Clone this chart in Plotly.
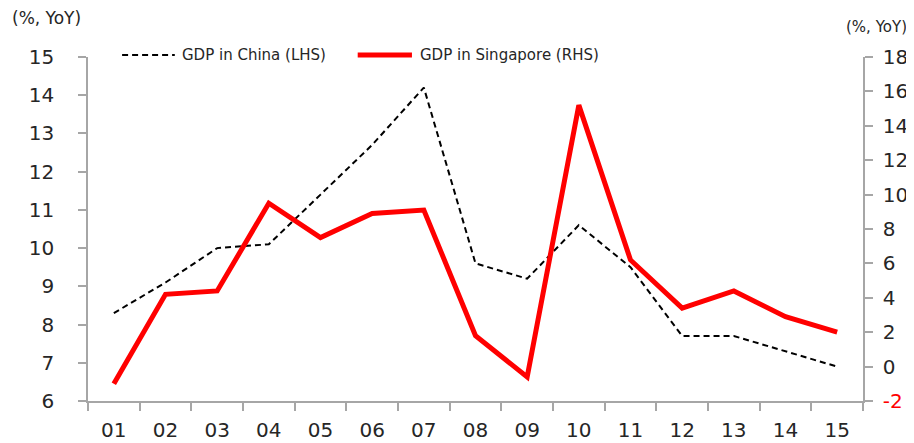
import plotly.graph_objects as go

years = ["01", "02", "03", "04", "05", "06", "07", "08", "09", "10", "11", "12", "13", "14", "15"]
gdp_china = [8.3, 9.1, 10.0, 10.1, 11.4, 12.7, 14.2, 9.6, 9.2, 10.6, 9.5, 7.7, 7.7, 7.3, 6.9]
gdp_singapore = [-1.0, 4.2, 4.4, 9.5, 7.5, 8.9, 9.1, 1.8, -0.6, 15.2, 6.2, 3.4, 4.4, 2.9, 2.0]
left_ticks = [6, 7, 8, 9, 10, 11, 12, 13, 14, 15]
right_ticks = [-2, 0, 2, 4, 6, 8, 10, 12, 14, 16, 18]
right_tick_text = ['<span style="color:#ff0000">-2</span>'] + [str(v) for v in right_ticks[1:]]

FONT = "DejaVu Sans"
AXIS_COLOR = "#a6a6a6"
TEXT_COLOR = "#262626"
TICK_SIZE = 20

fig = go.Figure()
fig.add_trace(go.Scatter(
    x=years, y=gdp_china, name="GDP in China (LHS)", mode="lines",
    line=dict(color="#000000", width=2, dash="6px,4px"), showlegend=False,
))
fig.add_trace(go.Scatter(
    x=years, y=gdp_singapore, name="GDP in Singapore (RHS)", mode="lines",
    line=dict(color="#ff0000", width=5), yaxis="y2", showlegend=False,
))

# page body has an 8px margin, so the figure is sized/placed to compensate
fig.update_layout(
    width=906, height=435,
    margin=dict(l=80, r=51, t=49, b=42, autoexpand=False),
    paper_bgcolor="white", plot_bgcolor="white",
    font=dict(family=FONT, color=TEXT_COLOR, size=TICK_SIZE),
    xaxis=dict(
        type="category", showgrid=False, zeroline=False, automargin=False,
        showline=True, linecolor=AXIS_COLOR, linewidth=1.5,
        ticks="outside", ticklen=8, tickcolor=AXIS_COLOR, tickwidth=1.5,
        tickson="boundaries", ticklabelstandoff=10,
        tickfont=dict(size=TICK_SIZE, family=FONT, color=TEXT_COLOR),
        range=[-0.5, 14.5],
    ),
    yaxis=dict(
        range=[6, 15], tickvals=left_ticks, showgrid=False, zeroline=False, automargin=False,
        showline=True, linecolor=AXIS_COLOR, linewidth=1.5,
        ticks="outside", ticklen=8, tickcolor=AXIS_COLOR, tickwidth=1.5,
        ticklabelstandoff=20,
        tickfont=dict(size=TICK_SIZE, family=FONT, color=TEXT_COLOR),
    ),
    yaxis2=dict(
        range=[-2, 18], tickvals=right_ticks, ticktext=right_tick_text,
        overlaying="y", side="right", anchor="x", automargin=False,
        showgrid=False, zeroline=False,
        showline=True, linecolor=AXIS_COLOR, linewidth=1.5,
        ticks="outside", ticklen=8, tickcolor=AXIS_COLOR, tickwidth=1.5,
        ticklabelstandoff=6,
        tickfont=dict(size=TICK_SIZE, family=FONT, color=TEXT_COLOR),
    ),
)

# axis unit labels
fig.add_annotation(text="(%, YoY)", xref="paper", yref="paper", x=-0.053, y=1.113,
                   showarrow=False, font=dict(size=17, family=FONT, color=TEXT_COLOR),
                   xanchor="center", yanchor="middle")
fig.add_annotation(text="(%, YoY)", xref="paper", yref="paper", x=1.018, y=1.087,
                   showarrow=False, font=dict(size=15, family=FONT, color=TEXT_COLOR),
                   xanchor="center", yanchor="middle")

# legend drawn manually
leg_y = 1.006
fig.add_shape(type="line", xref="paper", yref="paper", x0=0.044, x1=0.112, y0=leg_y, y1=leg_y,
              line=dict(color="#000000", width=2, dash="6px,4px"))
fig.add_annotation(text="GDP in China (LHS)", xref="paper", yref="paper", x=0.119, y=leg_y,
                   showarrow=False, xanchor="left", yanchor="middle",
                   font=dict(size=15, family=FONT, color=TEXT_COLOR))
fig.add_shape(type="line", xref="paper", yref="paper", x0=0.348, x1=0.418, y0=leg_y, y1=leg_y,
              line=dict(color="#ff0000", width=5))
fig.add_annotation(text="GDP in Singapore (RHS)", xref="paper", yref="paper", x=0.426, y=leg_y,
                   showarrow=False, xanchor="left", yanchor="middle",
                   font=dict(size=15, family=FONT, color=TEXT_COLOR))

fig.write_html("out.html")
